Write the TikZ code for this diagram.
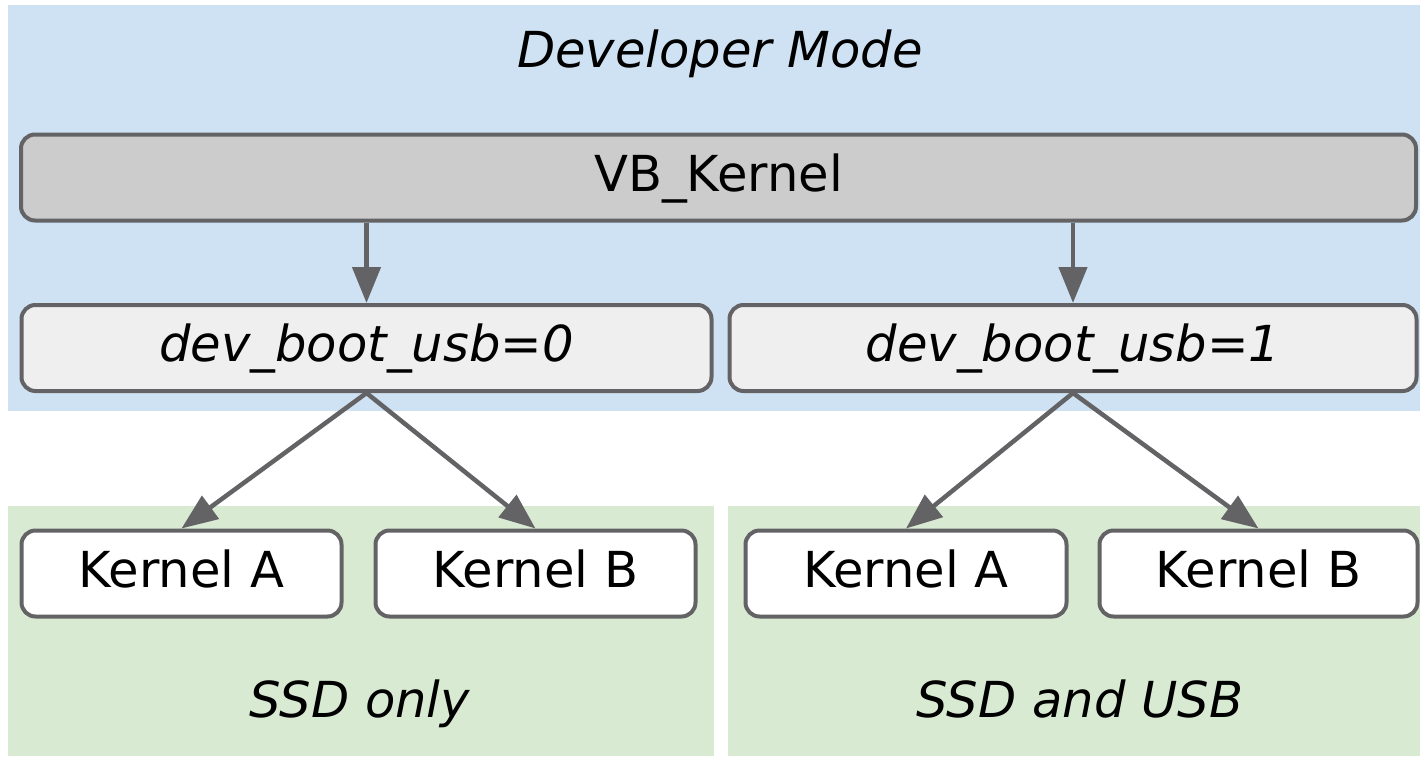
\documentclass[tikz,border=0pt]{standalone}
\usepackage{fontspec}
\setmainfont{DejaVu Sans}
\usetikzlibrary{arrows.meta}
\definecolor{devblue}{HTML}{CFE2F3}
\definecolor{mediagreen}{HTML}{D9EAD3}
\definecolor{edgegray}{HTML}{636366}
\definecolor{fwgray}{HTML}{CCCCCC}
\definecolor{optgray}{HTML}{EFEFEF}
\begin{document}
\begin{tikzpicture}[x=0.5pt,y=-0.5pt,every node/.style={font=\fontsize{24.8}{29}\selectfont},
  box/.style={draw=edgegray,line width=2pt,rounded corners=7pt,minimum height=43pt,inner sep=0pt,text height=17pt,text depth=3.5pt},
  region/.style={anchor=base,font=\fontsize{24.8}{29}\selectfont\itshape},
  >={Triangle[length=18pt,width=14pt]}]
\useasboundingbox (0,0) rectangle (1420,756);
% regions
\fill[devblue] (8,5) rectangle (1420,411);
\fill[mediagreen] (8,506) rectangle (714,756);
\fill[mediagreen] (728,506) rectangle (1420,756);
\node[region] (dev) at (720,67) {Developer Mode};
\node[region] (ssd) at (360,717) {SSD only};
\node[region] (usb) at (1080,717) {SSD and USB};
% boxes
\node[box,fill=fwgray,minimum width=697.5pt] (vbk) at (718.5,177.5) {VB\_Kernel};
\node[box,fill=optgray,minimum width=345pt] (usb0) at (366.5,348) {\itshape dev\_boot\_usb=0};
\node[box,fill=optgray,minimum width=343.5pt] (usb1) at (1073,348) {\itshape dev\_boot\_usb=1};
\node[box,fill=white,minimum width=160pt] (ka0) at (181.5,573.5) {Kernel A};
\node[box,fill=white,minimum width=160pt] (kb0) at (535.5,573.5) {Kernel B};
\node[box,fill=white,minimum width=160.5pt] (ka1) at (906,573.5) {Kernel A};
\node[box,fill=white,minimum width=159pt] (kb1) at (1258.5,573.5) {Kernel B};
% arrows
\begin{scope}[draw=edgegray,fill=edgegray,line width=2.25pt]
\draw[->] (vbk.south -| usb0.south) -- (usb0.north); \draw[->] (vbk.south -| usb1.south) -- (usb1.north);
\draw[->] (usb0.south) -- (ka0.north); \draw[->] (usb0.south) -- (kb0.north);
\draw[->] (usb1.south) -- (ka1.north); \draw[->] (usb1.south) -- (kb1.north);
\end{scope}
\end{tikzpicture}
\end{document}
